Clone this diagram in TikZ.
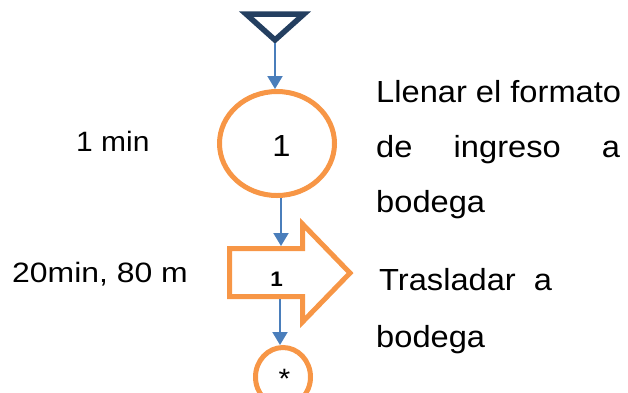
\documentclass[tikz,border=0pt]{standalone}
\usepackage{fontspec}
\setmainfont{Liberation Sans}
\usetikzlibrary{arrows.meta,shapes.geometric}
\definecolor{flowOrange}{RGB}{247,150,70}
\definecolor{flowBlue}{RGB}{74,126,187}
\definecolor{flowNavy}{RGB}{36,63,96}

\begin{document}
\begin{tikzpicture}[x=1pt,y=-1pt,
  outline/.style={draw=flowOrange, line width=5pt, line join=miter},
  flow/.style={draw=flowBlue, line width=2pt, -{Triangle[width=15pt,length=13pt]}},
  lbl/.style={inner sep=0pt, anchor=base west, xscale=1.07, font=\fontsize{28}{28}\selectfont},
  desc/.style={inner sep=0pt, anchor=base west, xscale=1.07, font=\fontsize{30.5}{30.5}\selectfont},
  num/.style={inner sep=0pt, anchor=base, xscale=1.07},
]
\useasboundingbox (0,0) rectangle (628,392);

% storage (inverted triangle)
\draw[flowNavy, line width=5.5pt, line join=miter] (246,14) -- (304,14) -- (275,40) -- cycle;
\coordinate (storeOut) at (275,43);

% operation
\node[outline, ellipse, minimum width=115pt, minimum height=104pt, inner sep=0pt] (op) at (277,143.5) {};
\node[num, font=\fontsize{30.5}{30.5}\selectfont] (opNum) at (281.5,156) {1};
\coordinate (opTop) at (275,89);
\coordinate (opBot) at (281,198);

% transport arrow
\draw[outline] (229.5,248.5) -- (302.5,248.5) -- (302.5,224) -- (350,273)
  -- (302.5,322) -- (302.5,296.5) -- (229.5,296.5) -- cycle;
\node[num, font=\fontsize{21}{21}\selectfont\bfseries] (moveNum) at (276.5,286) {1};
\coordinate (moveTop) at (281,246);
\coordinate (moveBot) at (280,299);

% connector to next chart
\node[outline, ellipse, minimum width=55pt, minimum height=59pt, inner sep=0pt] (link) at (283,377) {};
\node[num, font=\fontsize{28}{28}\selectfont, text depth=0pt] (linkMark) at (284.5,388) {*};
\coordinate (linkTop) at (280,345);

% flow lines
\draw[flow] (storeOut) -- (opTop);
\draw[flow] (opBot) -- (moveTop);
\draw[flow] (moveBot) -- (linkTop);

% times and distances
\node[lbl] (opTime) at (76,151) {1 min};
\node[lbl, xscale=1.065] (moveTime) at (12,282) {20min, 80 m};

% descriptions
\node[desc] (opDesc1) at (376,102) {Llenar el formato};
\node[desc] (opDesc2) at (376,157) {\hbox to 228pt{de\hfill ingreso\hfill a}};
\node[desc] (opDesc3) at (376,212) {bodega};
\node[desc] (moveDesc1) at (379,290) {Trasladar\ \ a};
\node[desc] (moveDesc2) at (376,347) {bodega};
\end{tikzpicture}
\end{document}
